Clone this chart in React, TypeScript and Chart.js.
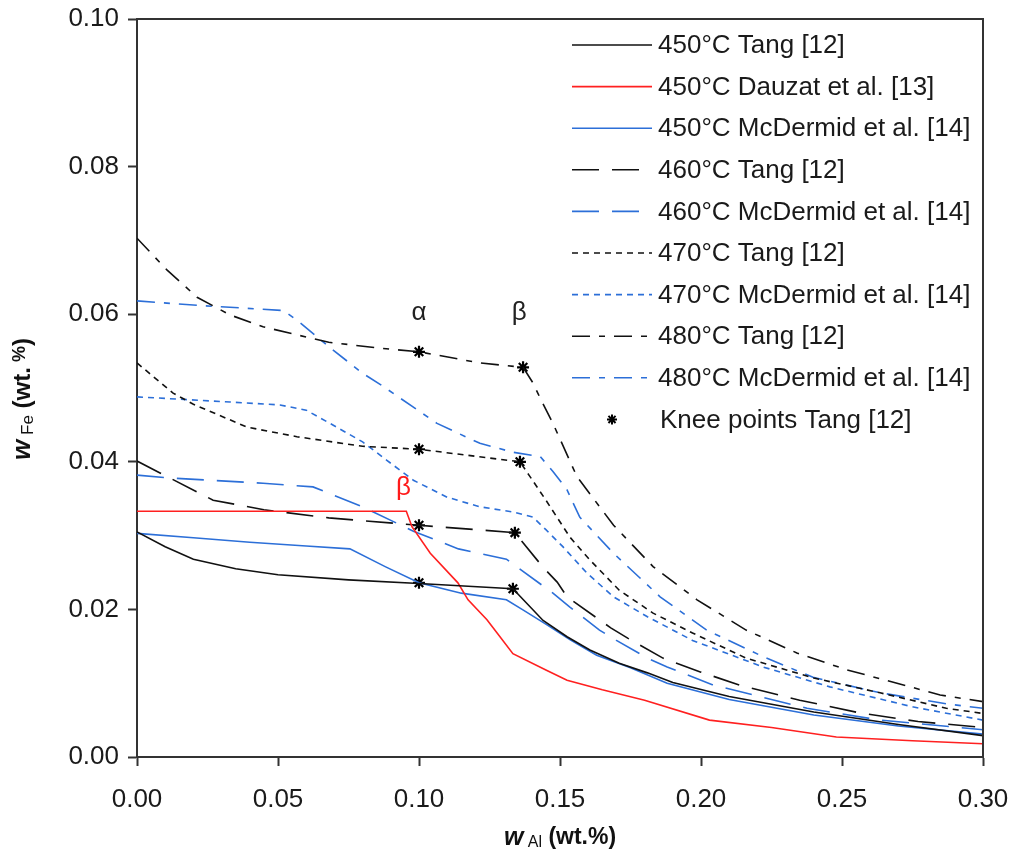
import React, { useEffect, useRef } from "react";
import { Chart, registerables } from "chart.js";

Chart.register(...registerables);

type P = [number, number];

const xTicks = [0, 0.05, 0.1, 0.15, 0.2, 0.25, 0.3];
const yTicks = [0, 0.02, 0.04, 0.06, 0.08, 0.1];

const tang450: P[] = [[0, 0.0305], [0.01, 0.0285], [0.02, 0.0268], [0.035, 0.0255], [0.05, 0.0247], [0.075, 0.024], [0.1, 0.0235], [0.1333, 0.0228], [0.144, 0.0185], [0.1525, 0.0163], [0.1606, 0.0145], [0.171, 0.0127], [0.181, 0.0114], [0.19, 0.0101], [0.21, 0.0082], [0.24, 0.0061], [0.27, 0.0044], [0.3, 0.0029]];
const dauzat450: P[] = [[0, 0.0333], [0.0955, 0.0333], [0.0975, 0.0312], [0.104, 0.0276], [0.1138, 0.0236], [0.1174, 0.0213], [0.1241, 0.0186], [0.1277, 0.0168], [0.1333, 0.014], [0.145, 0.0118], [0.1525, 0.0104], [0.165, 0.0091], [0.18, 0.0077], [0.203, 0.005], [0.225, 0.004], [0.248, 0.0027], [0.275, 0.0022], [0.3, 0.0018]];
const mcd450: P[] = [[0, 0.0303], [0.02, 0.0297], [0.04, 0.0291], [0.06, 0.0286], [0.0755, 0.0282], [0.088, 0.0258], [0.1, 0.0236], [0.115, 0.0222], [0.131, 0.0213], [0.137, 0.0199], [0.1454, 0.0179], [0.1535, 0.0159], [0.163, 0.0138], [0.175, 0.0121], [0.188, 0.01], [0.21, 0.0078], [0.24, 0.0057], [0.27, 0.0042], [0.3, 0.0031]];
const tang460: P[] = [[0, 0.0401], [0.0117, 0.0378], [0.027, 0.0348], [0.045, 0.0335], [0.068, 0.0324], [0.1, 0.0314], [0.134, 0.0304], [0.144, 0.0257], [0.149, 0.0237], [0.1525, 0.0217], [0.168, 0.0175], [0.174, 0.0161], [0.1865, 0.0134], [0.2, 0.0115], [0.214, 0.0097], [0.235, 0.0077], [0.256, 0.006], [0.277, 0.0048], [0.3, 0.004]];
const mcd460: P[] = [[0, 0.0382], [0.0117, 0.0378], [0.0447, 0.0371], [0.0624, 0.0366], [0.08, 0.0339], [0.098, 0.0306], [0.114, 0.0282], [0.131, 0.0268], [0.1475, 0.0222], [0.1535, 0.0203], [0.164, 0.0172], [0.17, 0.0158], [0.181, 0.0134], [0.188, 0.0122], [0.204, 0.0098], [0.2376, 0.0066], [0.2635, 0.005], [0.3, 0.0037]];
const tang470: P[] = [[0, 0.0534], [0.0128, 0.0493], [0.02, 0.0478], [0.039, 0.0447], [0.0567, 0.0434], [0.08, 0.0421], [0.1, 0.0417], [0.1358, 0.04], [0.139, 0.0382], [0.145, 0.0348], [0.1535, 0.0298], [0.1606, 0.0267], [0.171, 0.0226], [0.183, 0.0195], [0.197, 0.0168], [0.216, 0.0134], [0.24, 0.0107], [0.2635, 0.0087], [0.287, 0.0066], [0.3, 0.0059]];
const mcd470: P[] = [[0, 0.0488], [0.033, 0.0481], [0.0507, 0.0477], [0.06, 0.047], [0.068, 0.0453], [0.08, 0.0427], [0.0886, 0.0402], [0.098, 0.0375], [0.11, 0.0352], [0.1216, 0.0339], [0.1333, 0.0332], [0.1404, 0.0325], [0.145, 0.0308], [0.151, 0.0285], [0.1596, 0.0249], [0.169, 0.0217], [0.181, 0.019], [0.197, 0.0158], [0.222, 0.0122], [0.2457, 0.0095], [0.275, 0.0068], [0.3, 0.005]];
const tang480: P[] = [[0, 0.0703], [0.0106, 0.066], [0.0213, 0.0623], [0.033, 0.0599], [0.0447, 0.0583], [0.0567, 0.0572], [0.068, 0.0562], [0.086, 0.0554], [0.1, 0.0549], [0.1216, 0.0534], [0.1369, 0.0528], [0.1404, 0.0507], [0.143, 0.0486], [0.1475, 0.0452], [0.156, 0.038], [0.169, 0.0314], [0.183, 0.0258], [0.1986, 0.0213], [0.216, 0.0172], [0.234, 0.0141], [0.2518, 0.0118], [0.2695, 0.01], [0.2848, 0.0084], [0.3, 0.0075]];
const mcd480: P[] = [[0, 0.0618], [0.0213, 0.0612], [0.039, 0.0608], [0.052, 0.0605], [0.058, 0.0588], [0.068, 0.0556], [0.08, 0.052], [0.0862, 0.0505], [0.098, 0.0474], [0.1064, 0.0452], [0.1216, 0.0425], [0.1333, 0.0413], [0.143, 0.0407], [0.1475, 0.0387], [0.1525, 0.0362], [0.157, 0.0325], [0.169, 0.0276], [0.1855, 0.0217], [0.202, 0.0172], [0.222, 0.0136], [0.2397, 0.0108], [0.2635, 0.0087], [0.287, 0.0072], [0.3, 0.0066]];
const kneePoints: P[] = [[0.1, 0.0236], [0.1333, 0.0228], [0.1, 0.0314], [0.134, 0.0304], [0.1, 0.0417], [0.1358, 0.04], [0.1, 0.0549], [0.1369, 0.0528]];

const seriesLabels = [
  "450°C Tang [12]",
  "450°C Dauzat et al. [13]",
  "450°C McDermid et al. [14]",
  "460°C Tang [12]",
  "460°C McDermid et al. [14]",
  "470°C Tang [12]",
  "470°C McDermid et al. [14]",
  "480°C Tang [12]",
  "480°C McDermid et al. [14]",
  "Knee points Tang [12]",
];

// annotation labels in data coordinates
const annotations: { text: string; x: number; y: number; color: string }[] = [
  { text: "α", x: 0.1, y: 0.0602, color: "#222" },
  { text: "β", x: 0.1355, y: 0.0602, color: "#222" },
  { text: "β", x: 0.0945, y: 0.0365, color: "#ff1a1a" },
];

const BLACK = "#111111";
const RED = "#ff2020";
const BLUE = "#2c6fd8";
const FONT = "'Liberation Sans', Arial, sans-serif";

const LONG: number[] = [27, 13];
const SHORT: number[] = [6, 5];
const DASHDOT: number[] = [18, 9, 6, 9];

const toXY = (a: P[]) => a.map(([x, y]) => ({ x, y }));

function lineDs(label: string, data: P[], color: string, dash: number[]) {
  return {
    label,
    data: toXY(data),
    showLine: true,
    borderColor: color,
    backgroundColor: color,
    borderWidth: 1.6,
    borderDash: dash,
    pointRadius: 0,
    pointHoverRadius: 0,
    tension: 0,
    fill: false,
  };
}

function drawRich(
  ctx: CanvasRenderingContext2D,
  parts: { t: string; font: string; dy: number }[],
  cx: number,
  cy: number
) {
  let total = 0;
  for (const p of parts) {
    ctx.font = p.font;
    total += ctx.measureText(p.t).width;
  }
  let x = cx - total / 2;
  ctx.textAlign = "left";
  ctx.textBaseline = "middle";
  for (const p of parts) {
    ctx.font = p.font;
    ctx.fillText(p.t, x, cy + p.dy);
    x += ctx.measureText(p.t).width;
  }
}

function drawStar(ctx: CanvasRenderingContext2D, cx: number, cy: number, r: number) {
  ctx.beginPath();
  for (let k = 0; k < 4; k++) {
    const ang = (k * Math.PI) / 4;
    ctx.moveTo(cx - r * Math.cos(ang), cy - r * Math.sin(ang));
    ctx.lineTo(cx + r * Math.cos(ang), cy + r * Math.sin(ang));
  }
  ctx.stroke();
}

const customPlugin = {
  id: "customDecor",
  afterDraw(chart: any) {
    const { ctx, chartArea: a, scales } = chart;
    const xs = scales.x;
    const ys = scales.y;
    ctx.save();
    // frame top & right
    ctx.strokeStyle = "#333";
    ctx.lineWidth = 2;
    ctx.setLineDash([]);
    ctx.beginPath();
    ctx.moveTo(a.left - 1, a.top);
    ctx.lineTo(a.right, a.top);
    ctx.lineTo(a.right, a.bottom);
    ctx.stroke();

    // annotations
    ctx.font = `26px ${FONT}`;
    ctx.textAlign = "center";
    ctx.textBaseline = "middle";
    for (const an of annotations) {
      ctx.fillStyle = an.color;
      ctx.fillText(an.text, xs.getPixelForValue(an.x), ys.getPixelForValue(an.y));
    }

    // legend
    const datasets = chart.data.datasets;
    const x0 = 572;
    const x1 = 652;
    const tx = 658;
    const y0 = 45;
    const dy = 41.6;
    datasets.forEach((ds: any, i: number) => {
      const yy = y0 + i * dy;
      if (ds.showLine) {
        ctx.strokeStyle = ds.borderColor;
        ctx.lineWidth = ds.borderWidth;
        ctx.setLineDash(ds.borderDash || []);
        ctx.beginPath();
        ctx.moveTo(x0, yy);
        ctx.lineTo(x1, yy);
        ctx.stroke();
        ctx.setLineDash([]);
      } else {
        ctx.strokeStyle = "#000";
        ctx.lineWidth = 2;
        drawStar(ctx, 612, yy, 5);
      }
      ctx.fillStyle = "#1a1a1a";
      ctx.font = `26px ${FONT}`;
      ctx.textAlign = "left";
      ctx.textBaseline = "middle";
      ctx.fillText(ds.label, ds.showLine ? tx : tx + 2, yy + 1);
    });

    // axis titles
    ctx.fillStyle = "#111";
    drawRich(
      ctx,
      [
        { t: "w", font: `italic bold 25px ${FONT}`, dy: 0 },
        { t: " Al", font: `16px ${FONT}`, dy: 5 },
        { t: " (wt.%)", font: `bold 23px ${FONT}`, dy: 0 },
      ],
      (a.left + a.right) / 2,
      838
    );
    ctx.save();
    ctx.translate(23, 399);
    ctx.rotate(-Math.PI / 2);
    drawRich(
      ctx,
      [
        { t: "w", font: `italic bold 26px ${FONT}`, dy: 0 },
        { t: " Fe", font: `17px ${FONT}`, dy: 5 },
        { t: " (wt.", font: `bold 24px ${FONT}`, dy: 0 },
        { t: " %", font: `bold 18px ${FONT}`, dy: -3 },
        { t: ")", font: `bold 24px ${FONT}`, dy: 0 },
      ],
      0,
      0
    );
    ctx.restore();
    ctx.restore();
  },
};

export default function App() {
  const ref = useRef<HTMLCanvasElement | null>(null);

  useEffect(() => {
    document.body.style.margin = "0";
    const canvas = ref.current;
    if (!canvas) return;
    const chart = new Chart(canvas, {
      type: "scatter",
      data: {
        datasets: [
          lineDs(seriesLabels[0], tang450, BLACK, []),
          lineDs(seriesLabels[1], dauzat450, RED, []),
          lineDs(seriesLabels[2], mcd450, BLUE, []),
          lineDs(seriesLabels[3], tang460, BLACK, LONG),
          lineDs(seriesLabels[4], mcd460, BLUE, LONG),
          lineDs(seriesLabels[5], tang470, BLACK, SHORT),
          lineDs(seriesLabels[6], mcd470, BLUE, SHORT),
          lineDs(seriesLabels[7], tang480, BLACK, DASHDOT),
          lineDs(seriesLabels[8], mcd480, BLUE, DASHDOT),
          {
            label: seriesLabels[9],
            data: toXY(kneePoints),
            showLine: false,
            pointStyle: "star",
            pointRadius: 6,
            pointHoverRadius: 6,
            borderColor: "#000",
            backgroundColor: "#000",
            borderWidth: 2.2,
          } as any,
        ],
      },
      options: {
        responsive: false,
        animation: false,
        devicePixelRatio: 1,
        layout: { padding: { left: 0, top: 19, right: 27, bottom: 0 } },
        plugins: {
          legend: { display: false },
          tooltip: { enabled: false },
        },
        scales: {
          x: {
            type: "linear",
            min: 0,
            max: 0.3,
            afterFit: (s: any) => {
              s.height = 100;
              s.paddingLeft = 0;
              s.paddingRight = 0;
            },
            afterBuildTicks: (s: any) => {
              s.ticks = xTicks.map((v) => ({ value: v }));
            },
            ticks: {
              color: "#1a1a1a",
              font: { family: FONT, size: 26 },
              padding: 18,
              maxRotation: 0,
              callback: (v: any) => Number(v).toFixed(2),
            },
            grid: {
              drawOnChartArea: false,
              drawTicks: true,
              tickLength: 9,
              tickWidth: 2,
              tickColor: "#333",
            },
            border: { display: true, color: "#333", width: 2 },
          },
          y: {
            type: "linear",
            min: 0,
            max: 0.1,
            afterFit: (s: any) => {
              s.width = 137;
              s.paddingTop = 0;
              s.paddingBottom = 0;
            },
            afterBuildTicks: (s: any) => {
              s.ticks = yTicks.map((v) => ({ value: v }));
            },
            ticks: {
              color: "#1a1a1a",
              font: { family: FONT, size: 26 },
              padding: 9,
              callback: (v: any) => Number(v).toFixed(2),
            },
            grid: {
              drawOnChartArea: false,
              drawTicks: true,
              tickLength: 9,
              tickWidth: 2,
              tickColor: "#333",
            },
            border: { display: true, color: "#333", width: 2 },
          },
        },
      },
      plugins: [customPlugin],
    });
    return () => chart.destroy();
  }, []);

  return (
    <div style={{ width: 1010, height: 857, background: "#fff" }}>
      <canvas ref={ref} width={1010} height={857} style={{ display: "block" }} />
    </div>
  );
}
